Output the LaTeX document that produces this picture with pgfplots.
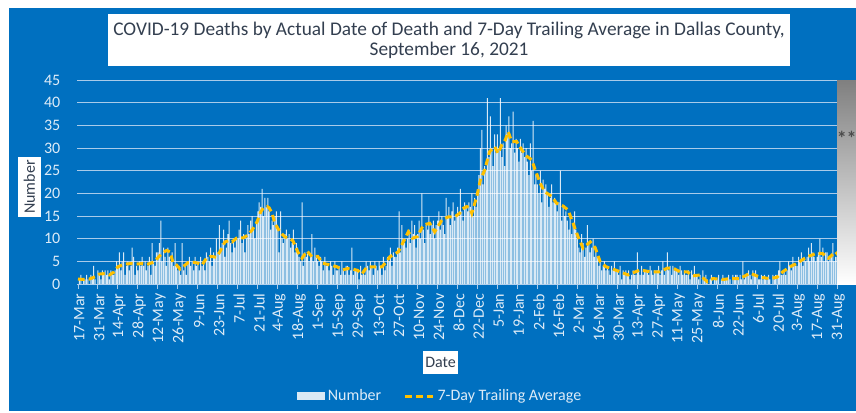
\documentclass[border=0pt]{standalone}
\usepackage{pgfplots}
\pgfplotsset{compat=1.18}
\usepackage{pgfplotstable}
\usepackage{fontspec}
\setmainfont{Carlito}
\definecolor{bgblue}{HTML}{0070C0}
\definecolor{avgyel}{HTML}{FFC000}
\definecolor{titletxt}{HTML}{333F50}
\definecolor{ticktxt}{HTML}{DDEBF7}
\definecolor{gridc}{HTML}{A9CBEA}
\definecolor{shade}{HTML}{C9D0D8}

\pgfplotstableread[row sep=\\]{
y\\
0\\1\\2\\0\\1\\1\\2\\
1\\0\\2\\1\\4\\1\\0\\
3\\2\\1\\3\\2\\3\\2\\
3\\1\\3\\2\\2\\3\\5\\
4\\7\\3\\5\\7\\2\\4\\
5\\3\\4\\8\\6\\2\\4\\
3\\5\\4\\6\\4\\5\\3\\
4\\6\\2\\9\\5\\4\\7\\
7\\9\\14\\5\\8\\6\\4\\
8\\6\\5\\7\\4\\9\\4\\
3\\4\\2\\9\\3\\4\\2\\
5\\6\\4\\5\\3\\6\\4\\
5\\3\\6\\4\\5\\3\\7\\
6\\5\\8\\4\\7\\6\\10\\
7\\13\\8\\9\\12\\6\\8\\
11\\14\\9\\7\\10\\8\\10\\
10\\12\\14\\9\\11\\7\\10\\
13\\11\\14\\15\\12\\10\\14\\
16\\18\\17\\21\\15\\19\\17\\
19\\16\\12\\14\\13\\15\\16\\
12\\7\\16\\10\\9\\11\\12\\
10\\11\\8\\9\\12\\7\\9\\
8\\6\\5\\18\\4\\7\\6\\
7\\5\\6\\11\\5\\8\\6\\
5\\4\\6\\5\\3\\6\\4\\
4\\3\\5\\4\\2\\5\\3\\
3\\4\\2\\5\\3\\2\\4\\
4\\2\\3\\8\\2\\3\\3\\
3\\1\\4\\2\\3\\2\\5\\
4\\3\\5\\4\\2\\5\\4\\
3\\5\\4\\2\\6\\3\\4\\
6\\5\\8\\4\\7\\6\\6\\
8\\16\\7\\13\\10\\9\\8\\
10\\12\\9\\14\\11\\13\\8\\
11\\14\\10\\20\\12\\9\\13\\
12\\15\\11\\13\\14\\10\\13\\
14\\16\\12\\15\\13\\11\\19\\
15\\17\\13\\16\\18\\14\\15\\
17\\15\\21\\16\\14\\18\\17\\
16\\18\\17\\20\\15\\19\\17\\
20\\24\\30\\34\\22\\26\\25\\
41\\28\\37\\30\\26\\33\\29\\
33\\30\\41\\28\\31\\26\\35\\
33\\37\\30\\31\\38\\29\\32\\
30\\27\\32\\29\\31\\28\\30\\
27\\24\\31\\25\\36\\22\\24\\
22\\20\\25\\18\\23\\21\\22\\
20\\17\\19\\22\\18\\19\\18\\
16\\18\\25\\14\\17\\15\\16\\
14\\12\\15\\11\\13\\16\\12\\
10\\8\\7\\11\\9\\6\\8\\
13\\9\\7\\8\\10\\6\\8\\
6\\4\\5\\3\\4\\5\\3\\
4\\3\\2\\4\\3\\5\\3\\
3\\2\\4\\1\\3\\2\\3\\
2\\3\\1\\2\\3\\2\\2\\
7\\3\\2\\4\\2\\3\\3\\
3\\2\\4\\3\\2\\3\\3\\
3\\4\\2\\3\\5\\2\\3\\
7\\3\\4\\2\\4\\3\\3\\
3\\2\\4\\3\\2\\3\\2\\
2\\3\\1\\3\\2\\4\\2\\
2\\1\\2\\0\\3\\1\\2\\
1\\0\\1\\2\\0\\1\\1\\
1\\2\\0\\1\\2\\1\\1\\
1\\2\\1\\0\\2\\1\\2\\
2\\1\\2\\1\\5\\1\\2\\
2\\3\\2\\1\\3\\2\\3\\
2\\1\\1\\2\\1\\2\\1\\
1\\2\\1\\0\\2\\1\\2\\
2\\3\\5\\2\\2\\3\\2\\
3\\5\\4\\3\\6\\4\\4\\
4\\6\\5\\7\\4\\6\\5\\
6\\8\\5\\9\\7\\6\\5\\
6\\7\\10\\6\\8\\5\\7\\
7\\5\\6\\6\\9\\5\\6\\
6\\5\\7\\4\\6\\5\\4\\
4\\5\\3\\4\\3\\5\\4\\
3\\4\\2\\
}\daily

\begin{document}
\begin{tikzpicture}[x=1pt,y=1pt]
\path[use as bounding box] (-57.975,-96) rectangle (584.025,213);
\fill[bgblue] (-51.225,-95.25) rectangle (584.025,207);
\fill[white] (23.025,163.5) rectangle (534.525,202.5);
\node[text=titletxt, font=\fontsize{14.5}{15}\selectfont, align=center] at (278.8,183) {COVID-19 Deaths by Actual Date of Death and 7-Day Trailing Average in Dallas County,\\September 16, 2021};
\node[fill=white, text=titletxt, rotate=90, font=\fontsize{12}{14}\selectfont, inner sep=0pt, minimum width=45pt, minimum height=17.25pt] at (-35.85,72.75) {Number};
\node[fill=white, text=titletxt, font=\fontsize{12}{14}\selectfont, inner sep=0pt, minimum width=26.25pt, minimum height=17.25pt] at (272.4,-58.9) {Date};
\begin{axis}[
  at={(0,0)}, anchor=south west,
  width=584.025pt, height=153pt, scale only axis,
  xmin=-0.5, xmax=545.3, ymin=0, ymax=45,
  axis lines*=left,
  y axis line style={draw=none},
  x axis line style={color=gridc, line width=0.75pt},
  xtick={0,14,...,532},
  xticklabels={17-Mar,31-Mar,14-Apr,28-Apr,12-May,26-May,9-Jun,23-Jun,7-Jul,21-Jul,4-Aug,18-Aug,1-Sep,15-Sep,29-Sep,13-Oct,27-Oct,10-Nov,24-Nov,8-Dec,22-Dec,5-Jan,19-Jan,2-Feb,16-Feb,2-Mar,16-Mar,30-Mar,13-Apr,27-Apr,11-May,25-May,8-Jun,22-Jun,6-Jul,20-Jul,3-Aug,17-Aug,31-Aug},
  ytick={0,5,...,45},
  tick align=outside,
  major tick length=3.75pt,
  xtick style={color=gridc, line width=0.75pt},
  ytick style={draw=none},
  ymajorgrids,
  major grid style={color=gridc, line width=0.75pt},
  /pgf/number format/assume math mode=true,
  xticklabel style={rotate=90, anchor=east, font=\fontsize{12}{14}\selectfont, text=ticktxt, yshift=-1pt},
  yticklabel style={font=\fontsize{12}{14}\selectfont, text=ticktxt, xshift=-5.5pt},
  legend style={at={(0.4664,-0.549)}, anchor=center, draw=none, fill=none, text=ticktxt,
    font=\fontsize{12}{14}\selectfont, legend columns=2,
    /tikz/every even column/.append style={column sep=15pt}},
]
\addplot[ybar, bar width=0.7, fill=white, draw=none, fill opacity=0.85,
  legend image code/.code={\fill[white] (0pt,-3pt) rectangle (21pt,3pt);}]
  table[x expr=\coordindex, y=y] {\daily};
\addlegendentry{Number}
\addplot[color=avgyel, line width=2.25pt, dash pattern=on 5pt off 3pt,
  legend image code/.code={\draw[avgyel, line width=2.25pt, dash pattern=on 5pt off 3pt] (0pt,0pt) -- (21pt,0pt);}]
  coordinates {(0,1.1)(4,1.0)(8,1.1)(12,1.6)(15,2.2)(19,2.3)(22,2.0)(25,2.6)(28,3.8)(31,4.2)(33,4.4)(37,4.5)(41,4.4)(45,4.5)(48,4.3)(51,4.6)(53,4.8)(56,5.8)(59,6.8)(62,7.4)(64.5,7.1)(66.5,4.8)(69,4.2)(71.5,3.3)(74,3.9)(77,4.7)(81,4.8)(84,4.6)(87,4.2)(90,5.7)(93,6.1)(97,5.9)(100,7.4)(103,9.3)(106,9.6)(108,9.3)(111,10.1)(116,10.2)(119,10.8)(122,11.9)(125.5,13.7)(128,15.9)(130,16.8)(132.5,17.1)(134,16.8)(136,15.6)(138,13.4)(141.5,11.5)(145,10.4)(148,10.0)(150.5,9.6)(152,8.6)(154,7.1)(157,5.7)(159,6.6)(160.5,7.3)(164,6.0)(168,6.1)(171.5,4.6)(176.5,4.2)(181.5,3.8)(185.5,3.1)(189,3.4)(192.5,3.3)(196,3.0)(199,2.2)(202.5,3.8)(207,3.8)(213,3.8)(216,4.8)(218.5,6.0)(222,6.6)(224.5,7.1)(228,9.3)(231.5,11.5)(234.5,10.1)(238,10.5)(242,13.0)(246.5,13.4)(250,11.5)(252.5,12.8)(255,14.1)(259.5,14.8)(264,14.8)(267.5,15.6)(269.5,16.6)(272.5,17.1)(274.5,16.8)(276,15.6)(279.5,19.3)(282,22.9)(285,25.1)(288.5,29.2)(292,30.3)(294.5,28.8)(297,30.7)(299.5,31.8)(301.5,33.6)(304,31.4)(307.5,31.4)(311,29.6)(314.5,28.2)(318,27.4)(320.5,25.1)(324,22.2)(327,20.4)(332,19.3)(335.5,17.8)(340,17.2)(343.5,16.3)(347,13.4)(350.5,10.4)(354,7.9)(359,9.3)(362.5,8.0)(366,4.9)(370,3.8)(373,3.5)(380,2.7)(385.5,2.0)(390,2.6)(394,3.1)(401,2.7)(408,2.7)(413,3.5)(417,3.5)(422,2.7)(427,2.7)(431,1.8)(436,2.0)(441,0.5)(445,1.2)(452,1.0)(457,1.2)(464,1.2)(471,2.4)(478,1.5)(485,1.2)(490,1.5)(494,2.7)(499,3.8)(504,4.6)(511,6.0)(518,6.8)(522,6.7)(526,5.7)(531,7.1)(534.5,5.7)(538,4.5)(541,3.8)(545,4.0)};
\addlegendentry{7-Day Trailing Average}
\fill[shade] (axis cs:532,0) rectangle (axis cs:560,45);
\node[text=black!70, font=\fontsize{15}{15}\selectfont\bfseries, inner sep=0pt] at (axis cs:538.8,32.2) {**};
\end{axis}
\end{tikzpicture}
\end{document}
